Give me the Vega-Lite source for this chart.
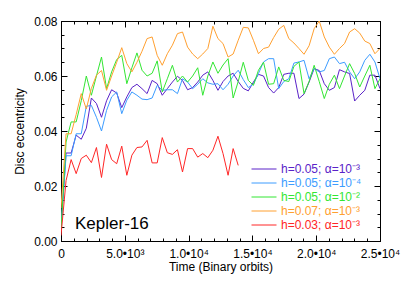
{
"$schema":"https://vega.github.io/schema/vega-lite/v6.json",
"width":319,"height":220,
"autosize":{"type":"none"},
"padding":{"left":61,"top":21,"right":27,"bottom":44},
"background":"white",
"config":{
 "font":"Liberation Sans",
 "view":{"stroke":"#000","strokeWidth":1},
 "axis":{"domain":false,"grid":false,"tickColor":"#000","tickWidth":1,"labelColor":"#000","titleColor":"#000","labelFontSize":12,"titleFontSize":12,"titleFontWeight":"normal","labelFont":"Liberation Sans","titleFont":"Liberation Sans","labelFlush":false,"labelOverlap":false}
},
"data":{"values":[
{"s":"p","t":0,"e":0.005},{"s":"p","t":397,"e":0.032},{"s":"p","t":794,"e":0.032},{"s":"p","t":1190,"e":0.0385},{"s":"p","t":1587,"e":0.037},{"s":"p","t":1984,"e":0.041},{"s":"p","t":2381,"e":0.052},{"s":"p","t":2778,"e":0.050},{"s":"p","t":3174,"e":0.045},{"s":"p","t":3571,"e":0.051},{"s":"p","t":3968,"e":0.055},{"s":"p","t":4365,"e":0.0538},{"s":"p","t":4762,"e":0.0485},{"s":"p","t":5158,"e":0.0524},{"s":"p","t":5555,"e":0.0558},{"s":"p","t":5952,"e":0.057},{"s":"p","t":6349,"e":0.0554},{"s":"p","t":6746,"e":0.0536},{"s":"p","t":7142,"e":0.0584},{"s":"p","t":7539,"e":0.0572},{"s":"p","t":7936,"e":0.053},{"s":"p","t":8333,"e":0.0554},{"s":"p","t":8730,"e":0.0578},{"s":"p","t":9126,"e":0.0599},{"s":"p","t":9523,"e":0.0584},{"s":"p","t":9920,"e":0.055},{"s":"p","t":10317,"e":0.0558},{"s":"p","t":10714,"e":0.0578},{"s":"p","t":11110,"e":0.0603},{"s":"p","t":11507,"e":0.0615},{"s":"p","t":11904,"e":0.0584},{"s":"p","t":12301,"e":0.0548},{"s":"p","t":12698,"e":0.058},{"s":"p","t":13094,"e":0.060},{"s":"p","t":13491,"e":0.061},{"s":"p","t":13888,"e":0.058},{"s":"p","t":14285,"e":0.0555},{"s":"p","t":14682,"e":0.0546},{"s":"p","t":15078,"e":0.0578},{"s":"p","t":15475,"e":0.0606},{"s":"p","t":15872,"e":0.060},{"s":"p","t":16269,"e":0.0558},{"s":"p","t":16666,"e":0.0538},{"s":"p","t":17062,"e":0.0558},{"s":"p","t":17459,"e":0.0606},{"s":"p","t":17856,"e":0.061},{"s":"p","t":18253,"e":0.061},{"s":"p","t":18650,"e":0.0518},{"s":"p","t":19046,"e":0.0534},{"s":"p","t":19443,"e":0.0578},{"s":"p","t":19840,"e":0.0627},{"s":"p","t":20237,"e":0.062},{"s":"p","t":20634,"e":0.0572},{"s":"p","t":21030,"e":0.0548},{"s":"p","t":21427,"e":0.0558},{"s":"p","t":21824,"e":0.0623},{"s":"p","t":22221,"e":0.0615},{"s":"p","t":22618,"e":0.0609},{"s":"p","t":23014,"e":0.0509},{"s":"p","t":23411,"e":0.053},{"s":"p","t":23808,"e":0.0548},{"s":"p","t":24205,"e":0.0603},{"s":"p","t":24602,"e":0.0603},{"s":"p","t":25000,"e":0.0554},
{"s":"b","t":0,"e":0.005},{"s":"b","t":397,"e":0.031},{"s":"b","t":794,"e":0.031},{"s":"b","t":1190,"e":0.039},{"s":"b","t":1587,"e":0.039},{"s":"b","t":1984,"e":0.049},{"s":"b","t":2381,"e":0.0493},{"s":"b","t":2778,"e":0.045},{"s":"b","t":3174,"e":0.040},{"s":"b","t":3571,"e":0.0475},{"s":"b","t":3968,"e":0.0524},{"s":"b","t":4365,"e":0.0542},{"s":"b","t":4762,"e":0.0463},{"s":"b","t":5158,"e":0.0512},{"s":"b","t":5555,"e":0.0542},{"s":"b","t":5952,"e":0.053},{"s":"b","t":6349,"e":0.0516},{"s":"b","t":6746,"e":0.0514},{"s":"b","t":7142,"e":0.052},{"s":"b","t":7539,"e":0.0566},{"s":"b","t":7936,"e":0.0548},{"s":"b","t":8333,"e":0.055},{"s":"b","t":8730,"e":0.055},{"s":"b","t":9126,"e":0.0536},{"s":"b","t":9523,"e":0.059},{"s":"b","t":9920,"e":0.0578},{"s":"b","t":10317,"e":0.0554},{"s":"b","t":10714,"e":0.057},{"s":"b","t":11110,"e":0.059},{"s":"b","t":11507,"e":0.0575},{"s":"b","t":11904,"e":0.057},{"s":"b","t":12301,"e":0.0572},{"s":"b","t":12698,"e":0.055},{"s":"b","t":13094,"e":0.057},{"s":"b","t":13491,"e":0.060},{"s":"b","t":13888,"e":0.0621},{"s":"b","t":14285,"e":0.0587},{"s":"b","t":14682,"e":0.0558},{"s":"b","t":15078,"e":0.057},{"s":"b","t":15475,"e":0.0609},{"s":"b","t":15872,"e":0.0651},{"s":"b","t":16269,"e":0.0663},{"s":"b","t":16666,"e":0.0663},{"s":"b","t":17062,"e":0.0554},{"s":"b","t":17459,"e":0.058},{"s":"b","t":17856,"e":0.059},{"s":"b","t":18253,"e":0.0647},{"s":"b","t":18650,"e":0.0651},{"s":"b","t":19046,"e":0.0657},{"s":"b","t":19443,"e":0.059},{"s":"b","t":19840,"e":0.0627},{"s":"b","t":20237,"e":0.0615},{"s":"b","t":20634,"e":0.062},{"s":"b","t":21030,"e":0.0663},{"s":"b","t":21427,"e":0.0669},{"s":"b","t":21824,"e":0.0645},{"s":"b","t":22221,"e":0.065},{"s":"b","t":22618,"e":0.0615},{"s":"b","t":23014,"e":0.059},{"s":"b","t":23411,"e":0.0615},{"s":"b","t":23808,"e":0.0657},{"s":"b","t":24205,"e":0.0679},{"s":"b","t":24602,"e":0.0651},{"s":"b","t":25000,"e":0.059},
{"s":"g","t":0,"e":0.004},{"s":"g","t":397,"e":0.036},{"s":"g","t":794,"e":0.0433},{"s":"g","t":1190,"e":0.0433},{"s":"g","t":1587,"e":0.051},{"s":"g","t":1984,"e":0.060},{"s":"g","t":2381,"e":0.053},{"s":"g","t":2778,"e":0.060},{"s":"g","t":3174,"e":0.0669},{"s":"g","t":3571,"e":0.0554},{"s":"g","t":3968,"e":0.0615},{"s":"g","t":4365,"e":0.066},{"s":"g","t":4762,"e":0.0675},{"s":"g","t":5158,"e":0.0572},{"s":"g","t":5555,"e":0.063},{"s":"g","t":5952,"e":0.0684},{"s":"g","t":6349,"e":0.0621},{"s":"g","t":6746,"e":0.060},{"s":"g","t":7142,"e":0.061},{"s":"g","t":7539,"e":0.0655},{"s":"g","t":7936,"e":0.0542},{"s":"g","t":8333,"e":0.059},{"s":"g","t":8730,"e":0.0639},{"s":"g","t":9126,"e":0.0578},{"s":"g","t":9523,"e":0.060},{"s":"g","t":9920,"e":0.0578},{"s":"g","t":10317,"e":0.060},{"s":"g","t":10714,"e":0.063},{"s":"g","t":11110,"e":0.053},{"s":"g","t":11507,"e":0.060},{"s":"g","t":11904,"e":0.0651},{"s":"g","t":12301,"e":0.061},{"s":"g","t":12698,"e":0.064},{"s":"g","t":13094,"e":0.0663},{"s":"g","t":13491,"e":0.052},{"s":"g","t":13888,"e":0.058},{"s":"g","t":14285,"e":0.065},{"s":"g","t":14682,"e":0.0584},{"s":"g","t":15078,"e":0.0566},{"s":"g","t":15475,"e":0.0621},{"s":"g","t":15872,"e":0.065},{"s":"g","t":16269,"e":0.057},{"s":"g","t":16666,"e":0.0572},{"s":"g","t":17062,"e":0.0633},{"s":"g","t":17459,"e":0.0584},{"s":"g","t":17856,"e":0.058},{"s":"g","t":18253,"e":0.0635},{"s":"g","t":18650,"e":0.0651},{"s":"g","t":19046,"e":0.0536},{"s":"g","t":19443,"e":0.058},{"s":"g","t":19840,"e":0.0639},{"s":"g","t":20237,"e":0.058},{"s":"g","t":20634,"e":0.0518},{"s":"g","t":21030,"e":0.057},{"s":"g","t":21427,"e":0.0603},{"s":"g","t":21824,"e":0.0554},{"s":"g","t":22221,"e":0.060},{"s":"g","t":22618,"e":0.0645},{"s":"g","t":23014,"e":0.0609},{"s":"g","t":23411,"e":0.056},{"s":"g","t":23808,"e":0.060},{"s":"g","t":24205,"e":0.0639},{"s":"g","t":24602,"e":0.0554},{"s":"g","t":25000,"e":0.059},
{"s":"o","t":0,"e":0.012},{"s":"o","t":397,"e":0.039},{"s":"o","t":794,"e":0.039},{"s":"o","t":1190,"e":0.046},{"s":"o","t":1587,"e":0.0536},{"s":"o","t":1984,"e":0.048},{"s":"o","t":2381,"e":0.0555},{"s":"o","t":2778,"e":0.0603},{"s":"o","t":3174,"e":0.062},{"s":"o","t":3571,"e":0.0548},{"s":"o","t":3968,"e":0.060},{"s":"o","t":4365,"e":0.065},{"s":"o","t":4762,"e":0.0703},{"s":"o","t":5158,"e":0.0645},{"s":"o","t":5555,"e":0.0615},{"s":"o","t":5952,"e":0.065},{"s":"o","t":6349,"e":0.069},{"s":"o","t":6746,"e":0.0736},{"s":"o","t":7142,"e":0.0742},{"s":"o","t":7539,"e":0.0675},{"s":"o","t":7936,"e":0.0639},{"s":"o","t":8333,"e":0.0681},{"s":"o","t":8730,"e":0.0712},{"s":"o","t":9126,"e":0.0754},{"s":"o","t":9523,"e":0.076},{"s":"o","t":9920,"e":0.0705},{"s":"o","t":10317,"e":0.068},{"s":"o","t":10714,"e":0.0663},{"s":"o","t":11110,"e":0.068},{"s":"o","t":11507,"e":0.070},{"s":"o","t":11904,"e":0.0781},{"s":"o","t":12301,"e":0.0736},{"s":"o","t":12698,"e":0.0718},{"s":"o","t":13094,"e":0.0669},{"s":"o","t":13491,"e":0.068},{"s":"o","t":13888,"e":0.073},{"s":"o","t":14285,"e":0.0777},{"s":"o","t":14682,"e":0.0775},{"s":"o","t":15078,"e":0.073},{"s":"o","t":15475,"e":0.0681},{"s":"o","t":15872,"e":0.070},{"s":"o","t":16269,"e":0.0705},{"s":"o","t":16666,"e":0.074},{"s":"o","t":17062,"e":0.077},{"s":"o","t":17459,"e":0.0784},{"s":"o","t":17856,"e":0.0736},{"s":"o","t":18253,"e":0.072},{"s":"o","t":18650,"e":0.070},{"s":"o","t":19046,"e":0.0679},{"s":"o","t":19443,"e":0.071},{"s":"o","t":19840,"e":0.0772},{"s":"o","t":20237,"e":0.080},{"s":"o","t":20634,"e":0.0742},{"s":"o","t":21030,"e":0.0705},{"s":"o","t":21427,"e":0.0679},{"s":"o","t":21824,"e":0.070},{"s":"o","t":22221,"e":0.0718},{"s":"o","t":22618,"e":0.076},{"s":"o","t":23014,"e":0.0772},{"s":"o","t":23411,"e":0.0756},{"s":"o","t":23808,"e":0.0727},{"s":"o","t":24205,"e":0.0718},{"s":"o","t":24602,"e":0.0681},{"s":"o","t":25000,"e":0.070},
{"s":"r","t":0,"e":0.002},{"s":"r","t":397,"e":0.022},{"s":"r","t":794,"e":0.0296},{"s":"r","t":1190,"e":0.0245},{"s":"r","t":1587,"e":0.030},{"s":"r","t":1984,"e":0.0312},{"s":"r","t":2381,"e":0.0285},{"s":"r","t":2778,"e":0.034},{"s":"r","t":3174,"e":0.0231},{"s":"r","t":3571,"e":0.0352},{"s":"r","t":3968,"e":0.0296},{"s":"r","t":4365,"e":0.0281},{"s":"r","t":4762,"e":0.0345},{"s":"r","t":5158,"e":0.0239},{"s":"r","t":5555,"e":0.0312},{"s":"r","t":5952,"e":0.034},{"s":"r","t":6349,"e":0.0342},{"s":"r","t":6746,"e":0.0366},{"s":"r","t":7142,"e":0.0284},{"s":"r","t":7539,"e":0.0284},{"s":"r","t":7936,"e":0.0376},{"s":"r","t":8333,"e":0.0321},{"s":"r","t":8730,"e":0.0315},{"s":"r","t":9126,"e":0.0332},{"s":"r","t":9523,"e":0.0251},{"s":"r","t":9920,"e":0.0336},{"s":"r","t":10317,"e":0.0336},{"s":"r","t":10714,"e":0.0305},{"s":"r","t":11110,"e":0.0318},{"s":"r","t":11507,"e":0.0303},{"s":"r","t":11904,"e":0.033},{"s":"r","t":12301,"e":0.0381},{"s":"r","t":12698,"e":0.0318},{"s":"r","t":13094,"e":0.0239},{"s":"r","t":13491,"e":0.0336},{"s":"r","t":13888,"e":0.0275}
]},
"layer":[
 {"mark":{"type":"line","strokeWidth":1,"clip":true},
  "encoding":{
   "x":{"field":"t","type":"quantitative","scale":{"domain":[0,25000],"nice":false},
        "axis":{"orient":"bottom","values":[0,5000,10000,15000,20000,25000],"tickSize":-6,"labelPadding":13,
                "labelExpr":"datum.value==0?'0':datum.value==5000?'5.0•10³':datum.value==10000?'1.0•10⁴':datum.value==15000?'1.5•10⁴':datum.value==20000?'2.0•10⁴':'2.5•10⁴'",
                "title":"Time (Binary orbits)","titlePadding":2}},
   "y":{"field":"e","type":"quantitative","scale":{"domain":[0,0.08],"nice":false,"zero":false},
        "axis":{"orient":"left","values":[0,0.02,0.04,0.06,0.08],"format":".2f","tickSize":-6,"labelPadding":10,
                "title":"Disc eccentricity","titlePadding":7}},
   "color":{"field":"s","type":"nominal",
            "scale":{"domain":["p","b","g","o","r"],"range":["#5a22c8","#3c9cff","#33e633","#ffa030","#ff2626"]},
            "legend":{"title":null,"orient":"none","legendX":197,"legendY":142,"symbolType":"M-5,0H5","symbolSize":25,"symbolStrokeWidth":1,"labelOffset":11,"labelFontSize":12,"labelFont":"Liberation Sans","rowPadding":2,"padding":0,"labelLimit":0,
                      "labelExpr":"datum.value=='p'?'h=0.05; α=10⁻³':datum.value=='b'?'h=0.05; α=10⁻⁴':datum.value=='g'?'h=0.05; α=10⁻²':datum.value=='o'?'h=0.07; α=10⁻³':'h=0.03; α=10⁻³'",
                      "encode":{"labels":{"update":{"fill":{"scale":"color","field":"value"}}}}}}
  }},
 {"mark":{"type":"line","strokeOpacity":0},
  "encoding":{
   "x":{"field":"t","type":"quantitative","axis":{"orient":"bottom","values":[0,1000,2000,3000,4000,5000,6000,7000,8000,9000,10000,11000,12000,13000,14000,15000,16000,17000,18000,19000,20000,21000,22000,23000,24000,25000],"tickSize":-3,"labels":false,"title":null}},
   "y":{"field":"e","type":"quantitative","axis":{"orient":"left","values":[0,0.005,0.01,0.015,0.02,0.025,0.03,0.035,0.04,0.045,0.05,0.055,0.06,0.065,0.07,0.075,0.08],"tickSize":-3,"labels":false,"title":null}},
   "detail":{"field":"s"}
  }},
 {"mark":{"type":"line","strokeOpacity":0},
  "encoding":{
   "x":{"field":"t","type":"quantitative","axis":{"orient":"top","values":[0,5000,10000,15000,20000,25000],"tickSize":-6,"labels":false,"title":null}},
   "y":{"field":"e","type":"quantitative","axis":{"orient":"right","values":[0,0.02,0.04,0.06,0.08],"tickSize":-6,"labels":false,"title":null}},
   "detail":{"field":"s"}
  }},
 {"mark":{"type":"line","strokeOpacity":0},
  "encoding":{
   "x":{"field":"t","type":"quantitative","axis":{"orient":"top","values":[0,1000,2000,3000,4000,5000,6000,7000,8000,9000,10000,11000,12000,13000,14000,15000,16000,17000,18000,19000,20000,21000,22000,23000,24000,25000],"tickSize":-3,"labels":false,"title":null}},
   "y":{"field":"e","type":"quantitative","axis":{"orient":"right","values":[0,0.005,0.01,0.015,0.02,0.025,0.03,0.035,0.04,0.045,0.05,0.055,0.06,0.065,0.07,0.075,0.08],"tickSize":-3,"labels":false,"title":null}},
   "detail":{"field":"s"}
  }},
 {"data":{"values":[{"label":"Kepler-16"}]},
  "mark":{"type":"text","fontSize":17,"align":"left","baseline":"alphabetic","font":"Liberation Sans","color":"#000"},
  "encoding":{
   "text":{"field":"label"},
   "x":{"datum":1100,"type":"quantitative","axis":null},
   "y":{"datum":0.0042,"type":"quantitative","axis":null}
  }}
],
"resolve":{"axis":{"x":"independent","y":"independent"}}
}
